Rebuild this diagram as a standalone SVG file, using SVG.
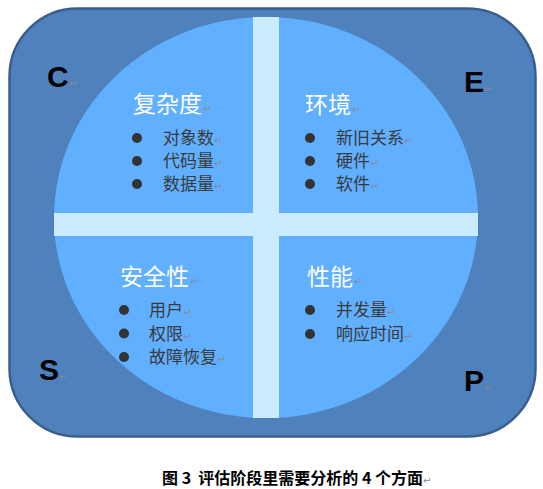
<svg xmlns="http://www.w3.org/2000/svg" width="543" height="489" viewBox="0 0 543 489">
<style>
.head{font-family:"Noto Sans CJK SC","Noto Sans",sans-serif;font-size:23px;fill:#ffffff}
.item{font-family:"Noto Sans CJK SC","Noto Sans",sans-serif;font-size:17px;fill:#3a3a3a}
.ltr{font-family:"Liberation Sans","Noto Sans",sans-serif;font-size:30px;font-weight:bold;fill:#000000}
.cap{font-family:"Noto Sans CJK SC","Noto Sans",sans-serif;font-size:16px;font-weight:bold;fill:#000000;white-space:pre}
.ret{font-family:"DejaVu Sans",sans-serif;font-size:10px;fill:#8a8a8a;font-weight:normal}
.dot{fill:#333333}
</style>
<rect id="frame" x="9.5" y="8.5" width="526" height="428" rx="68" ry="68" fill="#4f81bd" stroke="#3b5f8c" stroke-width="2.5"/>
<ellipse id="disc" cx="266" cy="217.5" rx="212" ry="200.5" fill="#61afff"/>
<g id="connectors">
<rect x="253" y="17" width="26" height="401" fill="#cbebff"/>
<rect x="54" y="213" width="424" height="23" fill="#cbebff"/>
</g>
<g id="complexity">
<text class="head" x="133" y="112">复杂度<tspan class="ret" dx="1">↵</tspan></text>
<circle class="dot" cx="137" cy="138" r="5"/>
<circle class="dot" cx="137" cy="161" r="5"/>
<circle class="dot" cx="137" cy="184" r="5"/>
<text class="item" x="163" y="144">对象数<tspan class="ret">↵</tspan></text>
<text class="item" x="163" y="167">代码量<tspan class="ret">↵</tspan></text>
<text class="item" x="163" y="190">数据量<tspan class="ret">↵</tspan></text>
</g>
<g id="environment">
<text class="head" x="305" y="113">环境<tspan class="ret" dx="1">↵</tspan></text>
<circle class="dot" cx="310" cy="138" r="5"/>
<circle class="dot" cx="310" cy="161" r="5"/>
<circle class="dot" cx="310" cy="184" r="5"/>
<text class="item" x="336" y="144">新旧关系<tspan class="ret">↵</tspan></text>
<text class="item" x="336" y="167">硬件<tspan class="ret">↵</tspan></text>
<text class="item" x="336" y="190">软件<tspan class="ret">↵</tspan></text>
</g>
<g id="security">
<text class="head" x="120" y="285">安全性<tspan class="ret" dx="1">↵</tspan></text>
<circle class="dot" cx="124" cy="310" r="5"/>
<circle class="dot" cx="124" cy="333.5" r="5"/>
<circle class="dot" cx="124" cy="357" r="5"/>
<text class="item" x="149" y="316">用户<tspan class="ret">↵</tspan></text>
<text class="item" x="149" y="339.5">权限<tspan class="ret">↵</tspan></text>
<text class="item" x="149" y="363">故障恢复<tspan class="ret">↵</tspan></text>
</g>
<g id="performance">
<text class="head" x="307" y="285">性能<tspan class="ret" dx="1">↵</tspan></text>
<circle class="dot" cx="310" cy="310" r="5"/>
<circle class="dot" cx="310" cy="334" r="5"/>
<text class="item" x="336" y="316">并发量<tspan class="ret">↵</tspan></text>
<text class="item" x="336" y="340">响应时间<tspan class="ret">↵</tspan></text>
</g>
<g id="letter-c"><text class="ltr" x="47" y="87">C<tspan class="ret">↵</tspan></text></g>
<g id="letter-e"><text class="ltr" x="464" y="92">E<tspan class="ret">↵</tspan></text></g>
<g id="letter-s"><text class="ltr" x="39" y="380">S<tspan class="ret">↵</tspan></text></g>
<g id="letter-p"><text class="ltr" x="464" y="391">P<tspan class="ret">↵</tspan></text></g>
<g id="caption"><text class="cap" x="162" y="484">图 3  评估阶段里需要分析的 4 个方面<tspan class="ret">↵</tspan></text></g>
</svg>
